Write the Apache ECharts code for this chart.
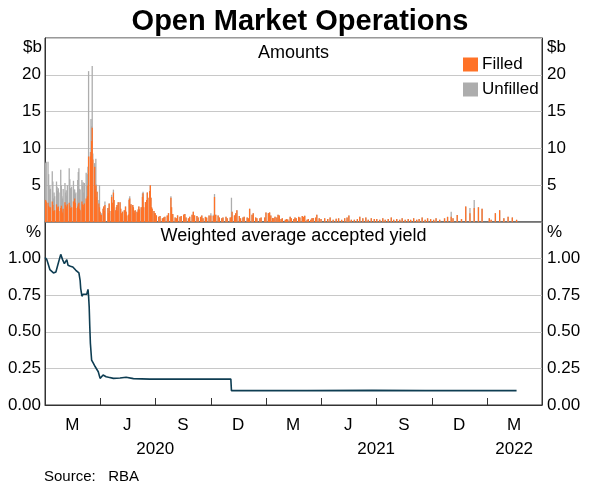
<!DOCTYPE html>
<html><head><meta charset="utf-8">
<script src="https://cdn.jsdelivr.net/npm/echarts@6/dist/echarts.min.js"></script>
<style>html,body{margin:0;padding:0;background:#fff}#c{width:600px;height:490px}</style>
</head><body><div id="c"></div>
<script>
// ---- Amounts ($b): date, filled, unfilled ----
const barDates = [
'2020-01-02','2020-01-03','2020-01-06','2020-01-07','2020-01-08','2020-01-09','2020-01-10','2020-01-13','2020-01-14','2020-01-15','2020-01-16','2020-01-17','2020-01-20','2020-01-21','2020-01-22','2020-01-23','2020-01-24','2020-01-27','2020-01-28','2020-01-29','2020-01-30','2020-01-31',
'2020-02-03','2020-02-04','2020-02-05','2020-02-06','2020-02-07','2020-02-10','2020-02-11','2020-02-12','2020-02-13','2020-02-14','2020-02-17','2020-02-18','2020-02-19','2020-02-20','2020-02-21','2020-02-24','2020-02-25','2020-02-26','2020-02-27','2020-02-28',
'2020-03-02','2020-03-03','2020-03-04','2020-03-05','2020-03-06','2020-03-09','2020-03-10','2020-03-11','2020-03-12','2020-03-13','2020-03-16','2020-03-17','2020-03-18','2020-03-19','2020-03-20','2020-03-23','2020-03-24','2020-03-25','2020-03-26','2020-03-27','2020-03-30','2020-03-31',
'2020-04-01','2020-04-02','2020-04-03','2020-04-06','2020-04-07','2020-04-08','2020-04-09','2020-04-14','2020-04-15','2020-04-16','2020-04-17','2020-04-20','2020-04-21','2020-04-22','2020-04-23','2020-04-24','2020-04-27','2020-04-28','2020-04-29','2020-04-30',
'2020-05-01','2020-05-04','2020-05-05','2020-05-06','2020-05-07','2020-05-08','2020-05-11','2020-05-12','2020-05-13','2020-05-14','2020-05-15','2020-05-18','2020-05-19','2020-05-20','2020-05-21','2020-05-22','2020-05-25','2020-05-26','2020-05-27','2020-05-28','2020-05-29',
'2020-06-01','2020-06-02','2020-06-03','2020-06-04','2020-06-05','2020-06-08','2020-06-09','2020-06-10','2020-06-11','2020-06-12','2020-06-15','2020-06-16','2020-06-17','2020-06-18','2020-06-19','2020-06-22','2020-06-23','2020-06-24','2020-06-25','2020-06-26','2020-06-29','2020-06-30',
'2020-07-01','2020-07-03','2020-07-07','2020-07-09','2020-07-13','2020-07-15','2020-07-17','2020-07-21','2020-07-23','2020-07-27','2020-07-28','2020-07-30','2020-08-03','2020-08-05','2020-08-07','2020-08-11','2020-08-13','2020-08-17','2020-08-19','2020-08-21','2020-08-25','2020-08-27','2020-08-31','2020-09-02','2020-09-04','2020-09-08','2020-09-10','2020-09-14','2020-09-16','2020-09-18','2020-09-22','2020-09-24','2020-09-28',
'2020-10-01','2020-10-05','2020-10-07','2020-10-09','2020-10-13','2020-10-15','2020-10-19','2020-10-21','2020-10-26','2020-10-28','2020-11-02','2020-11-04','2020-11-05','2020-11-09','2020-11-11','2020-11-13','2020-11-17','2020-11-19','2020-11-23','2020-11-25','2020-11-30','2020-12-02','2020-12-04','2020-12-08','2020-12-10','2020-12-14','2020-12-16','2020-12-21','2020-12-23','2020-12-29','2020-12-31',
'2021-01-04','2021-01-06','2021-01-08','2021-01-11','2021-01-13','2021-01-15','2021-01-18','2021-01-20','2021-01-22','2021-01-25','2021-01-27','2021-02-01','2021-02-03','2021-02-05','2021-02-09','2021-02-11','2021-02-15','2021-02-17','2021-02-19','2021-02-23','2021-02-25','2021-03-01','2021-03-03','2021-03-05','2021-03-09','2021-03-11','2021-03-15','2021-03-17','2021-03-19','2021-03-23','2021-03-25','2021-03-29',
'2021-04-01','2021-04-07','2021-04-12','2021-04-16','2021-04-21','2021-04-26','2021-04-30','2021-05-05','2021-05-10','2021-05-14','2021-05-17','2021-05-21','2021-05-26','2021-05-31','2021-06-04','2021-06-09','2021-06-14','2021-06-18','2021-06-23','2021-06-28',
'2021-07-02','2021-07-07','2021-07-12','2021-07-16','2021-07-21','2021-07-26','2021-07-30','2021-08-04','2021-08-09','2021-08-13','2021-08-18','2021-08-23','2021-08-27','2021-09-01','2021-09-06','2021-09-10','2021-09-15','2021-09-20','2021-09-24','2021-09-29',
'2021-10-04','2021-10-08','2021-10-14','2021-10-22','2021-10-27','2021-11-02','2021-11-05','2021-11-12','2021-11-19','2021-11-26','2021-12-03','2021-12-10','2021-12-17','2021-12-23',
'2022-01-04','2022-01-07','2022-01-14','2022-01-21','2022-01-28','2022-02-04','2022-02-11','2022-02-18'
];
const filledAmt = [
3.0,2.8,2.6,2.2,2.0,1.6,2.0,2.8,2.3,1.5,1.2,1.6,2.4,2.0,1.8,2.1,1.5,1.9,2.2,1.4,1.2,1.8,
2.7,2.3,2.1,1.8,2.4,2.6,2.2,1.9,1.6,2.0,2.8,2.4,3.2,2.6,1.9,2.1,2.4,2.6,1.8,1.6,
2.8,2.4,2.3,2.0,2.5,3.2,2.8,3.5,5.0,8.9,8.9,9.5,11.0,12.8,8.5,7.5,4.5,5.0,3.4,4.1,2.5,2.0,
1.4,1.0,0.95,1.8,2.1,1.5,2.3,1.9,1.2,2.5,1.5,3.4,2.6,2.0,4.0,3.0,1.6,2.0,2.3,1.5,
2.7,2.7,1.8,1.2,0.8,1.4,1.6,1.0,2.1,1.4,0.9,1.0,3.0,3.2,2.2,2.4,2.3,2.0,1.5,1.2,1.6,
1.4,1.2,1.7,2.1,1.7,2.0,1.5,3.4,3.9,2.0,2.7,2.2,3.0,4.0,3.3,4.2,5.0,3.3,2.0,1.8,1.5,1.2,
1.2,0.9,0.7,0.8,0.5,0.6,0.7,0.9,1.2,3.3,2.0,1.1,0.6,0.5,0.9,0.7,0.8,1.0,1.1,0.6,0.5,0.7,1.0,1.4,0.9,0.8,0.6,0.7,0.9,0.5,0.7,0.6,0.9,
0.9,0.8,3.4,1.0,0.9,0.6,0.5,0.6,0.7,0.5,0.6,0.7,1.4,0.9,1.2,1.6,0.8,0.5,0.6,0.7,0.6,0.5,1.8,1.0,1.2,0.6,0.5,0.5,0.6,0.6,1.3,
1.2,1.3,0.9,0.55,0.5,0.7,0.6,1.0,0.9,0.4,0.5,0.3,0.4,0.35,0.7,0.5,0.4,0.6,0.5,0.7,0.6,0.8,0.7,0.85,0.3,0.4,0.3,0.5,0.55,0.6,1.0,0.5,
0.4,0.5,0.4,0.6,0.3,0.45,0.5,0.3,0.5,0.6,0.9,0.3,0.3,0.4,0.7,0.5,0.6,0.3,0.5,0.4,
0.4,0.3,0.5,0.3,0.4,0.6,0.3,0.4,0.3,0.5,0.3,0.4,0.3,0.5,0.3,0.4,0.6,0.3,0.5,0.4,
0.3,0.5,0.3,0.5,0.7,0.7,0.5,0.95,0.4,2.1,1.2,1.9,2.0,1.8,
0.5,0.3,1.2,1.6,0.5,0.7,0.6,0.3
];
const unfilledAmt = [
5.0,5.4,5.6,4.3,2.4,3.4,2.5,4.1,3.2,1.7,2.8,1.9,3.1,2.8,2.4,2.5,2.5,5.2,2.8,2.1,2.0,2.7,
2.6,1.7,2.2,1.8,2.6,4.7,3.6,2.7,2.4,2.8,2.8,2.0,1.2,1.2,2.1,3.6,4.4,4.7,2.7,2.8,
2.9,2.6,3.1,2.0,2.8,3.5,2.2,3.0,2.5,11.6,0.6,4.5,2.0,8.4,0.8,0.5,3.0,3.6,1.7,0,0.5,3.0,
0,0,0.25,0,0,0,0.5,0,0,0,0,0.3,0,0,0.4,0,0,0,0,0,
0,0,0,0,0,0,0,0,0,0,0,0,0.2,0.3,0,0,0,0,0,0,0,
0,0,0,0,0,0,0,0.5,0.2,0,0,0,0,0,0,0,0,0,0,0,0,0,
0,0,0,0,0,0,0,0,0,0.2,0,0,0,0,0,0,0,0,0,0,0,0,0,0,0,0,0,0,0,0,0,0,0,
0.3,0.2,0.4,0,0,0,0,0,0,0,0,2.6,0,0,0,0,0,0,0,0,0,0,0,0,0,0,0,0,0,0,0,
0,0,0,0,0,0,0,0,0,0,0,0,0,0,0,0,0,0,0,0,0,0,0,0,0,0,0,0,0,0,0,0,
0,0,0,0,0,0,0,0,0,0,0,0,0,0,0,0,0,0,0,0,
0,0,0,0,0,0,0,0,0,0,0,0,0,0,0,0,0,0,0,0,
0,0,0,0,0,0.7,0,0,0,0,0.7,1.1,0,0,
0,0,0,0,0,0,0,0
];
// ---- Weighted average accepted yield (%) ----
const yieldDates = ['2020-01-01','2020-01-04','2020-01-06','2020-01-09','2020-01-12','2020-01-15','2020-01-19','2020-01-21','2020-01-25','2020-01-27','2020-01-30','2020-02-02','2020-02-05','2020-02-06','2020-02-08','2020-02-12','2020-02-16','2020-02-18','2020-02-21','2020-02-24','2020-02-26','2020-02-28','2020-02-29','2020-03-02','2020-03-04','2020-03-07','2020-03-10','2020-03-12','2020-03-13','2020-03-14','2020-03-15','2020-03-16','2020-03-18','2020-03-21','2020-03-24','2020-03-26','2020-03-29','2020-04-01','2020-04-04','2020-04-06','2020-04-11','2020-04-15','2020-04-23','2020-05-04','2020-05-14','2020-05-26','2020-06-22','2020-09-13','2020-11-03','2020-11-04','2021-03-10','2021-06-25','2021-09-20','2021-12-10','2022-02-18'];
const yieldVals = [1.007,0.993,0.966,0.925,0.92,0.902,0.909,0.92,1.0,1.029,0.993,0.966,0.977,0.993,0.955,0.948,0.943,0.93,0.92,0.91,0.902,0.852,0.795,0.743,0.757,0.75,0.757,0.79,0.743,0.67,0.534,0.42,0.307,0.284,0.261,0.25,0.227,0.182,0.193,0.205,0.193,0.189,0.182,0.184,0.189,0.18,0.177,0.177,0.177,0.098,0.098,0.1,0.098,0.099,0.098];
// ---- Axis ticks / labels ----
const quarterStarts = ['2020-04-01','2020-07-01','2020-10-01','2021-01-01','2021-04-01','2021-07-01','2021-10-01','2022-01-01'];
const quarterMids = ['2020-02-15','2020-05-16','2020-08-16','2020-11-15','2021-02-14','2021-05-16','2021-08-16','2021-11-15','2022-02-14'];
const quarterLabels = ['M','J','S','D','M','J','S','D','M'];
const yearPos = ['2020-07-01','2021-07-01','2022-02-14'];
const yearLabels = ['2020','2021','2022'];

function ts(s){const p=s.split('-');return Date.UTC(+p[0],+p[1]-1,+p[2]);}
function lookup(vals, labels){const t=vals.map(ts);return function(v){let bi=0,bd=Infinity;for(let i=0;i<t.length;i++){const d=Math.abs(t[i]-v);if(d<bd){bd=d;bi=i;}}return bd<86400000*3?labels[bi]:'';};}

const FONT = "'Liberation Sans', Arial, sans-serif";
const xMin = ts('2020-01-01'), xMax = ts('2022-04-01');
const ORANGE = '#FF7227', GREY = '#ADADAD', LINE = '#0E3D52';
const lab = {fontSize:17,color:'#000',fontFamily:FONT};

const chart = echarts.init(document.getElementById('c'));
chart.setOption({
  animation:false,
  backgroundColor:'#fff',
  title:[{text:'Open Market Operations',left:'center',top:2,textStyle:{fontSize:29,fontWeight:'bold',color:'#000',fontFamily:FONT}}],
  legend:{data:['Filled','Unfilled'],orient:'vertical',left:463,top:56,padding:0,itemWidth:15,itemHeight:14,itemGap:8,icon:'rect',
    textStyle:{fontSize:17,color:'#000',fontFamily:FONT,padding:[0,0,0,-1]}},
  grid:[{left:45,right:58,top:38,height:184,show:true,borderColor:'#333',borderWidth:1},
        {left:45,right:58,top:222,height:183,show:true,borderColor:'#333',borderWidth:1}],
  xAxis:[
    {gridIndex:0,type:'value',min:xMin,max:xMax,axisLabel:{show:false},axisTick:{show:false},splitLine:{show:false},axisLine:{show:true,lineStyle:{color:'#777',width:1.5}}},
    {gridIndex:1,type:'value',min:xMin,max:xMax,splitLine:{show:false},axisLine:{show:true,lineStyle:{color:'#333',width:1}},
      axisTick:{show:true,inside:true,length:7,customValues:quarterStarts.map(ts),lineStyle:{color:'#333'}},
      axisLabel:{customValues:quarterMids.map(ts),formatter:lookup(quarterMids,quarterLabels),margin:12,...lab}},
    {gridIndex:1,type:'value',min:xMin,max:xMax,position:'bottom',offset:24,splitLine:{show:false},axisLine:{show:false},axisTick:{show:false},
      axisLabel:{customValues:yearPos.map(ts),formatter:lookup(yearPos,yearLabels),margin:12,...lab}}
  ],
  yAxis:[
    {gridIndex:0,type:'value',position:'left',min:0,max:25,interval:5,axisLine:{show:true,lineStyle:{color:'#333'}},axisTick:{show:false},
      splitLine:{show:true,lineStyle:{color:'#c8c8c8'}},axisLabel:{formatter:v=>(v===0||v===25)?'':String(v),margin:4,...lab}},
    {gridIndex:0,type:'value',position:'right',min:0,max:25,interval:5,axisLine:{show:true,lineStyle:{color:'#333'}},axisTick:{show:false},
      splitLine:{show:false},axisLabel:{formatter:v=>(v===0||v===25)?'':String(v),margin:5,...lab}},
    {gridIndex:1,type:'value',position:'left',min:0,max:1.25,interval:0.25,axisLine:{show:true,lineStyle:{color:'#333'}},axisTick:{show:false},
      splitLine:{show:true,lineStyle:{color:'#c8c8c8'}},axisLabel:{formatter:v=>v>1.2?'':v.toFixed(2),margin:4,...lab}},
    {gridIndex:1,type:'value',position:'right',min:0,max:1.25,interval:0.25,axisLine:{show:true,lineStyle:{color:'#333'}},axisTick:{show:false},
      splitLine:{show:false},axisLabel:{formatter:v=>v>1.2?'':v.toFixed(2),margin:5,...lab}}
  ],
  graphic:[
    {type:'text',x:293.5,y:53,style:{text:'Amounts',align:'center',verticalAlign:'middle',fontSize:18,fill:'#000',fontFamily:FONT}},
    {type:'text',x:293.5,y:236,style:{text:'Weighted average accepted yield',align:'center',verticalAlign:'middle',fontSize:18,fill:'#000',fontFamily:FONT}},
    {type:'text',x:42,y:47,style:{text:'$b',align:'right',verticalAlign:'middle',fontSize:17,fill:'#000',fontFamily:FONT}},
    {type:'text',x:547,y:47,style:{text:'$b',align:'left',verticalAlign:'middle',fontSize:17,fill:'#000',fontFamily:FONT}},
    {type:'text',x:41,y:232,style:{text:'%',align:'right',verticalAlign:'middle',fontSize:17,fill:'#000',fontFamily:FONT}},
    {type:'text',x:547,y:232,style:{text:'%',align:'left',verticalAlign:'middle',fontSize:17,fill:'#000',fontFamily:FONT}},
    {type:'text',x:44,y:477,style:{text:'Source:   RBA',align:'left',verticalAlign:'middle',fontSize:15,fill:'#000',fontFamily:FONT}}
  ],
  series:[
    // grey bar = total amount offered (filled + unfilled), drawn behind the filled part
    {name:'Unfilled',type:'bar',xAxisIndex:0,yAxisIndex:0,barWidth:1.3,barGap:'-100%',z:2,itemStyle:{color:GREY},
      data:barDates.map((d,i)=>[ts(d),filledAmt[i]+unfilledAmt[i]])},
    {name:'Filled',type:'bar',xAxisIndex:0,yAxisIndex:0,barWidth:1.3,barGap:'-100%',z:3,itemStyle:{color:ORANGE},
      data:barDates.map((d,i)=>[ts(d),filledAmt[i]])},
    {name:'Yield',type:'line',xAxisIndex:1,yAxisIndex:2,showSymbol:false,symbol:'none',lineStyle:{color:LINE,width:1.6},
      data:yieldDates.map((d,i)=>[ts(d),yieldVals[i]])}
  ]
});
</script></body></html>
